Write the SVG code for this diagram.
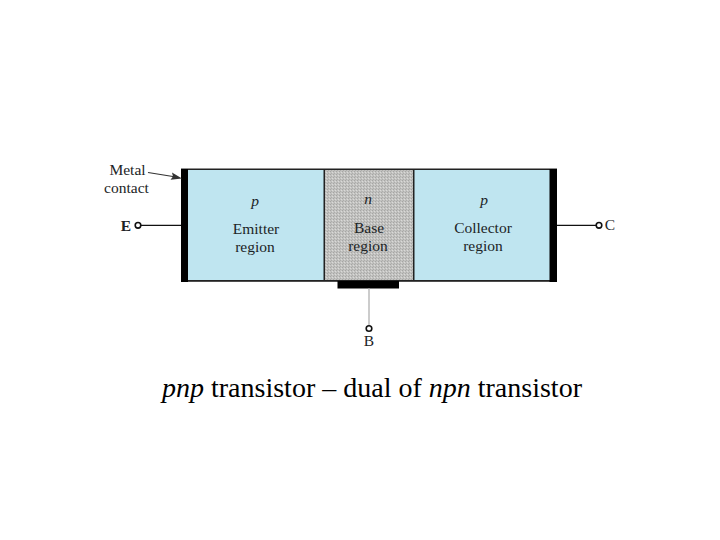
<svg xmlns="http://www.w3.org/2000/svg" width="720" height="540" viewBox="0 0 720 540">
<defs>
<style>
.lbl{font-family:"Liberation Serif","Times New Roman",serif;font-size:15.500px;fill:#1c2426;text-anchor:middle}
.it{font-style:italic}
.cap{font-family:"Liberation Serif","Times New Roman",serif;font-size:28px;fill:#000}
.blue{fill:#bfe5f0;stroke:none}
.metal{fill:#000;stroke:none}
.wire{stroke:#111;stroke-width:1.2;fill:none}
.term{fill:#fff;stroke:#111;stroke-width:1.6}
</style>
<pattern id="stipple" width="3" height="3" patternUnits="userSpaceOnUse">
<rect width="3" height="3" fill="#c2c2c0"/>
<rect x="0" y="0" width="1" height="1" fill="#a6a6a4"/>
<rect x="2" y="1" width="1" height="1" fill="#dadad8"/>
<rect x="1" y="2" width="1" height="1" fill="#adadab"/>
</pattern>
</defs>
<rect width="720" height="540" fill="#fff"/>
<g id="emitter-region">
<rect class="blue" x="188" y="169" width="136" height="112"/>
<text class="lbl it" x="255" y="206">p</text>
<text class="lbl" x="256" y="234">Emitter</text>
<text class="lbl" x="255" y="252">region</text>
</g>
<g id="base-region">
<rect x="324" y="169" width="90" height="112" fill="url(#stipple)"/>
<text class="lbl it" x="368" y="204">n</text>
<text class="lbl" x="369" y="233">Base</text>
<text class="lbl" x="368" y="251">region</text>
</g>
<g id="collector-region">
<rect class="blue" x="414" y="169" width="136" height="112"/>
<text class="lbl it" x="484" y="205">p</text>
<text class="lbl" x="483" y="233">Collector</text>
<text class="lbl" x="483" y="251">region</text>
</g>
<g id="body-outline">
<rect x="181" y="168.500" width="376" height="1.500" fill="#222"/>
<rect x="181" y="280" width="376" height="1.800" fill="#222"/>
<rect x="323.500" y="169" width="1.500" height="112" fill="#222"/>
<rect x="413" y="169" width="1.500" height="112" fill="#222"/>
</g>
<g id="metal-contacts">
<rect class="metal" x="181" y="169" width="7" height="113"/>
<rect class="metal" x="549.500" y="169" width="7.500" height="113"/>
<rect class="metal" x="337.500" y="281" width="61.500" height="7.500"/>
</g>
<g id="connectors">
<line class="wire" x1="141" y1="225.300" x2="181" y2="225.300"/>
<line class="wire" x1="557" y1="225.300" x2="596" y2="225.300"/>
<line x1="369" y1="288" x2="369" y2="325" stroke="#aaa" stroke-width="1.200"/>
<line x1="148" y1="172.500" x2="176" y2="177" stroke="#333" stroke-width="1.200"/>
<path d="M182 178.500 L170.500 179.800 L173 176.500 L172 172.500 Z" fill="#333"/>
</g>
<g id="terminal-E">
<circle class="term" cx="138" cy="225.300" r="2.800"/>
<text class="lbl" x="126" y="231" font-weight="bold">E</text>
</g>
<g id="terminal-C">
<circle class="term" cx="599" cy="225.300" r="2.800"/>
<text class="lbl" x="610" y="230">C</text>
</g>
<g id="terminal-B">
<circle class="term" cx="369" cy="328.500" r="2.800"/>
<text class="lbl" x="369" y="346">B</text>
</g>
<g id="metal-contact-label">
<text class="lbl" x="127.500" y="175">Metal</text>
<text class="lbl" x="126.500" y="193">contact</text>
</g>
<text class="cap" x="162" y="397"><tspan class="it">pnp</tspan> transistor – dual of <tspan class="it">npn</tspan> transistor</text>
</svg>
